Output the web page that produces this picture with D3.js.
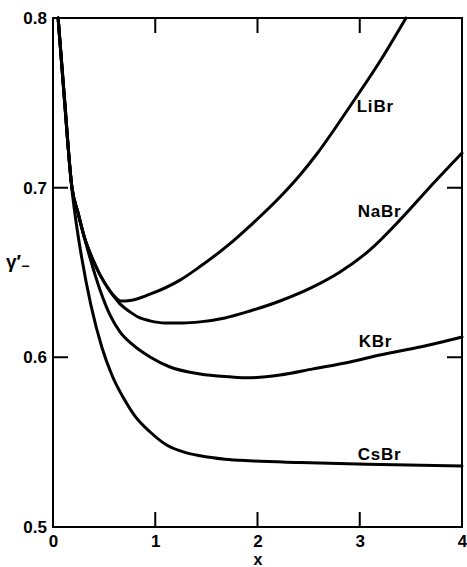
<!DOCTYPE html>
<html lang="en">
<head>
<meta charset="UTF-8">
<title>Activity coefficients</title>
<style>
  body { margin: 0; background: #fff; }
  text { font-family: "Liberation Sans", Arial, sans-serif; font-weight: bold; fill: #000; }
  .curve { fill: none; stroke: #000; stroke-width: 3px; stroke-linejoin: round; stroke-linecap: round; }
</style>
</head>
<body>
<svg id="chart" width="467" height="567"></svg>
<script src="https://d3js.org/d3.v7.min.js"></script>
<script>
// values
const liX = [0.05, 0.11, 0.186, 0.245, 0.303, 0.391, 0.46, 0.557, 0.606, 0.665, 0.753, 0.949, 1.242, 1.438, 1.731, 1.927, 2.22, 2.416, 2.582, 2.905, 3.198, 3.452];
const liY = [0.800, 0.7534, 0.6998, 0.6851, 0.6715, 0.6574, 0.6486, 0.6391, 0.6356, 0.6332, 0.6335, 0.6372, 0.6455, 0.6535, 0.667, 0.6775, 0.6945, 0.7075, 0.72, 0.748, 0.7745, 0.800];

const naX = [0.05, 0.11, 0.186, 0.245, 0.303, 0.391, 0.46, 0.557, 0.655, 0.753, 0.851, 0.949, 1.095, 1.271, 1.438, 1.682, 1.927, 2.22, 2.543, 2.807, 3.1, 3.394, 3.687, 4.0];
const naY = [0.800, 0.7534, 0.6998, 0.6851, 0.6715, 0.6574, 0.6486, 0.6391, 0.6315, 0.6268, 0.6232, 0.6215, 0.6203, 0.6203, 0.6209, 0.6232, 0.6273, 0.6332, 0.6415, 0.6503, 0.6633, 0.681, 0.7004, 0.7204];

const kX = [0.05, 0.11, 0.186, 0.245, 0.303, 0.362, 0.46, 0.557, 0.655, 0.782, 0.949, 1.144, 1.438, 1.731, 1.897, 2.22, 2.543, 2.905, 3.198, 3.589, 4.0];
const kY = [0.800, 0.7534, 0.6998, 0.6851, 0.6715, 0.6586, 0.6397, 0.625, 0.615, 0.6073, 0.6002, 0.5943, 0.5902, 0.5885, 0.5879, 0.5896, 0.5932, 0.5973, 0.6014, 0.6061, 0.612];

const csX = [0.05, 0.11, 0.18, 0.23, 0.28, 0.37, 0.48, 0.58, 0.69, 0.8, 0.95, 1.12, 1.29, 1.44, 1.68, 1.93, 2.42, 3.07, 4.0];
const csY = [0.800, 0.755, 0.702, 0.678, 0.659, 0.631, 0.6055, 0.589, 0.576, 0.5655, 0.556, 0.548, 0.544, 0.542, 0.540, 0.539, 0.538, 0.537, 0.536];

const salts = ["LiBr", "NaBr", "KBr", "CsBr"];
const labelX = [2.97, 2.98, 2.99, 2.98];          // left edge of each name
const labelY = [0.7446, 0.6827, 0.6061, 0.5396];  // baseline of each name

const xLabels = [0, 1, 2, 3, 4];
const yLabels = [0.5, 0.6, 0.7, 0.8];
const xTicks = [1, 2, 3];
const yTicks = [0.6, 0.7];

const margin = { top: 18, left: 53 };
const w = 409, h = 509, tickLen = 15;

const svg = d3.select("#chart");
const g = svg.append("g").attr("transform", `translate(${margin.left},${margin.top})`);

const x = d3.scaleLinear().domain([0, 4]).range([0, w]);
const y = d3.scaleLinear().domain([0.5, 0.8]).range([h, 0]);

// frame and inward ticks in one path
const p = d3.path();
p.rect(0, 0, w, h);
xTicks.forEach(d => {
  p.moveTo(x(d), h); p.lineTo(x(d), h - tickLen);
  p.moveTo(x(d), 0); p.lineTo(x(d), tickLen);
});
yTicks.forEach(d => {
  p.moveTo(0, y(d)); p.lineTo(tickLen, y(d));
  p.moveTo(w, y(d)); p.lineTo(w - tickLen, y(d));
});
g.append("path")
  .attr("d", p.toString())
  .style("fill", "none")
  .style("stroke", "#000")
  .style("stroke-width", "2px");

// tick labels
g.append("g").attr("transform", `translate(0,${h})`)
  .call(d3.axisBottom(x).tickValues(xLabels).tickSize(0).tickPadding(8).tickFormat(d3.format("d")))
  .call(a => a.select(".domain").remove())
  .selectAll("text").style("font-size", "17px").attr("font-family", null);
g.append("g")
  .call(d3.axisLeft(y).tickValues(yLabels).tickSize(0).tickPadding(6).tickFormat(d3.format(".1f")))
  .call(a => a.select(".domain").remove())
  .selectAll("text").style("font-size", "17px").attr("font-family", null);

const line = d3.line().x(d => x(d[0])).y(d => y(d[1])).curve(d3.curveMonotoneX);
const series = [[liX, liY], [naX, naY], [kX, kY], [csX, csY]];
series.forEach(([xs, ys]) => {
  g.append("path").attr("class", "curve").attr("d", line(xs.map((v, i) => [v, ys[i]])));
});

// curve names
salts.forEach((s, i) => {
  g.append("text")
    .attr("x", x(labelX[i]))
    .attr("y", y(labelY[i]))
    .style("font-size", "17px")
    .style("letter-spacing", "0.8px")
    .text(s);
});

// axis titles
svg.append("text").attr("x", 258).attr("y", 565).attr("text-anchor", "middle")
  .style("font-size", "16px").text("x");
const yt = svg.append("text").attr("x", 6).attr("y", 268).style("font-size", "19px");
yt.append("tspan").text("γ′");
yt.append("tspan").attr("dy", 3).style("font-size", "14px").text("−");
</script>
</body>
</html>
